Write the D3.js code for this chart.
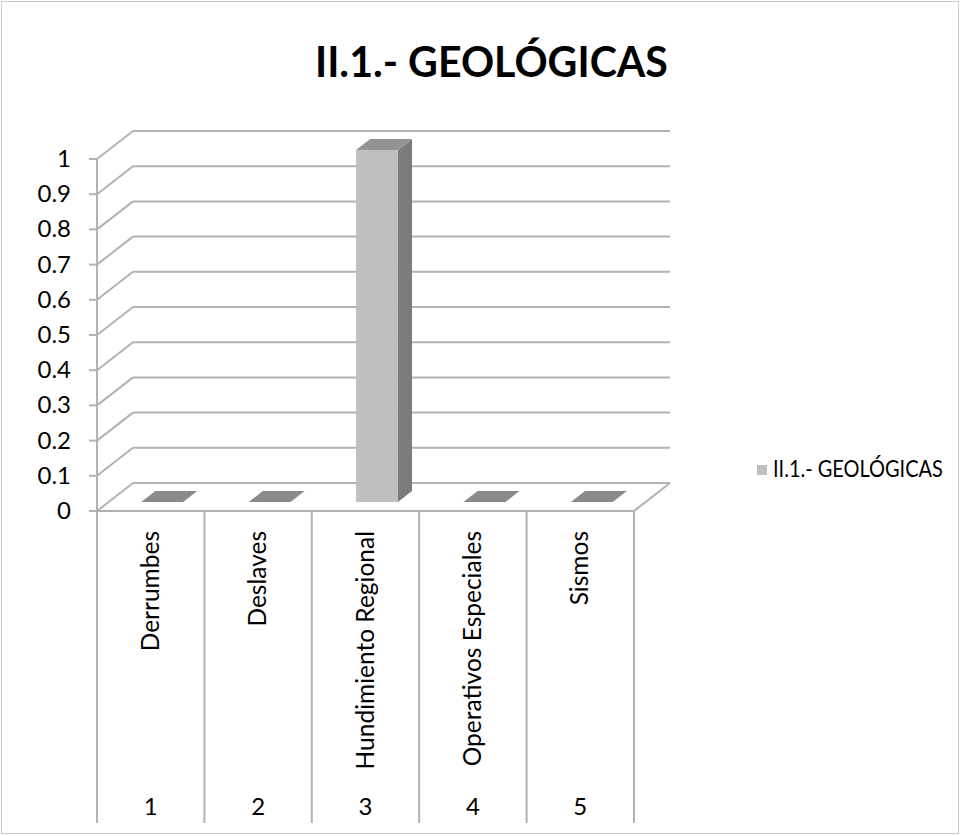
<!DOCTYPE html>
<html><head><meta charset="utf-8">
<script src="https://cdn.jsdelivr.net/npm/d3@7"></script>
<style>html,body{margin:0;padding:0;background:#fff;}svg{display:block;}</style>
</head><body>
<script>
const title = "II.1.- GEOLÓGICAS";
const seriesName = "II.1.- GEOLÓGICAS";
const categories = ["Derrumbes", "Deslaves", "Hundimiento Regional", "Operativos Especiales", "Sismos"];
const rowNumbers = ["1", "2", "3", "4", "5"];
const values = [0, 0, 1, 0, 0];
const yTicks = [0, 0.1, 0.2, 0.3, 0.4, 0.5, 0.6, 0.7, 0.8, 0.9, 1];

const W = 961, H = 836;
const FONT = "Lato, 'Open Sans', sans-serif";
const svg = d3.select("body").append("svg").attr("width", W).attr("height", H);

svg.append("rect").attr("x", 1.5).attr("y", 1.5).attr("width", W - 4).attr("height", H - 4)
  .attr("fill", "#fff").attr("stroke", "#c8c8c8").attr("stroke-width", 1);

const x = d3.scaleBand().domain(categories).range([97, 634]).padding(0);
const y = d3.scaleLinear().domain([0, 1]).range([511, 159]);
const depth = {dx: 36, dy: -28};
const gridColor = "#b2b2b2";

// back wall and side wall gridlines
const g = svg.append("g");
yTicks.forEach(v => {
  const yy = y(v);
  g.append("line").attr("x1", 97).attr("y1", yy).attr("x2", 97 + depth.dx).attr("y2", yy + depth.dy)
    .attr("stroke", gridColor).attr("stroke-width", 2);
  g.append("line").attr("x1", 97 + depth.dx).attr("y1", yy + depth.dy).attr("x2", 634 + depth.dx).attr("y2", yy + depth.dy)
    .attr("stroke", gridColor).attr("stroke-width", 2);
});
// floor front and right edges
g.append("line").attr("x1", 97).attr("y1", y(0)).attr("x2", 634).attr("y2", y(0)).attr("stroke", gridColor).attr("stroke-width", 2);
g.append("line").attr("x1", 634).attr("y1", y(0)).attr("x2", 634 + depth.dx).attr("y2", y(0) + depth.dy).attr("stroke", gridColor).attr("stroke-width", 2);

// vertical axis
g.append("line").attr("x1", 97).attr("y1", y(0)).attr("x2", 97).attr("y2", y(1)).attr("stroke", gridColor).attr("stroke-width", 2);
yTicks.forEach(v => {
  g.append("line").attr("x1", 89).attr("y1", y(v)).attr("x2", 97).attr("y2", y(v)).attr("stroke", gridColor).attr("stroke-width", 2);
  g.append("text").attr("x", 71).attr("y", y(v) + 8).attr("text-anchor", "end")
    .attr("font-family", FONT).attr("font-size", 24).attr("fill", "#000").text(d3.format("")(v));
});

// bars
const f0 = 0.32, f1 = 0.71, bw = 0.39;
const bars = svg.append("g");
categories.forEach((c, i) => {
  const v = values[i];
  const cx = x(c) + x.bandwidth() / 2;
  const w = x.bandwidth() * bw;
  const x0 = cx - w / 2 + depth.dx * f0, x1 = x0 + w;
  const ox = depth.dx * (f1 - f0), oy = depth.dy * (f1 - f0);
  const yb = y(0) + depth.dy * f0, yt = y(v) + depth.dy * f0;
  if (v > 0) {
    bars.append("path").attr("d", `M${x1},${yb}L${x1 + ox},${yb + oy}L${x1 + ox},${yt + oy}L${x1},${yt}Z`).attr("fill", "#7c7c7c");
    bars.append("rect").attr("x", x0).attr("y", yt).attr("width", w).attr("height", yb - yt).attr("fill", "#bfbfbf");
  }
  bars.append("path").attr("d", `M${x0},${yt}L${x1},${yt}L${x1 + ox},${yt + oy}L${x0 + ox},${yt + oy}Z`)
    .attr("fill", v > 0 ? "#939393" : "#8a8a8a");
});

// data table under the axis
const tbl = svg.append("g");
const edges = categories.map(c => x(c)).concat([x(categories[categories.length - 1]) + x.bandwidth()]);
edges.forEach(ex => {
  tbl.append("line").attr("x1", ex).attr("y1", y(0)).attr("x2", ex).attr("y2", 823).attr("stroke", gridColor).attr("stroke-width", 2);
});
categories.forEach((c, i) => {
  const cx = x(c) + x.bandwidth() / 2;
  tbl.append("text").attr("transform", `translate(${cx + 8},531) rotate(-90)`).attr("text-anchor", "end")
    .attr("font-family", FONT).attr("font-size", 24.5).attr("fill", "#000").text(c);
  tbl.append("text").attr("x", cx).attr("y", 815).attr("text-anchor", "middle")
    .attr("font-family", FONT).attr("font-size", 24).attr("fill", "#000").text(rowNumbers[i]);
});

// horizontally fitted text helper (condensed like the original font)
function fitted(parent, tx, ty, targetW, size, weight, str) {
  const t = parent.append("text").attr("x", 0).attr("y", 0)
    .attr("font-family", FONT).attr("font-weight", weight).attr("font-size", size).attr("fill", "#000").text(str);
  const nat = t.node().getComputedTextLength();
  const sx = nat > 0 ? targetW / nat : 1;
  t.attr("transform", `translate(${tx},${ty}) scale(${sx},1)`);
  return t;
}

// title
fitted(svg, 315, 77, 353, 42, "bold", title);

// legend
svg.append("rect").attr("x", 757).attr("y", 465).attr("width", 10).attr("height", 10).attr("fill", "#bfbfbf");
fitted(svg, 773, 477, 170, 24, "normal", seriesName);
</script>
</body></html>
